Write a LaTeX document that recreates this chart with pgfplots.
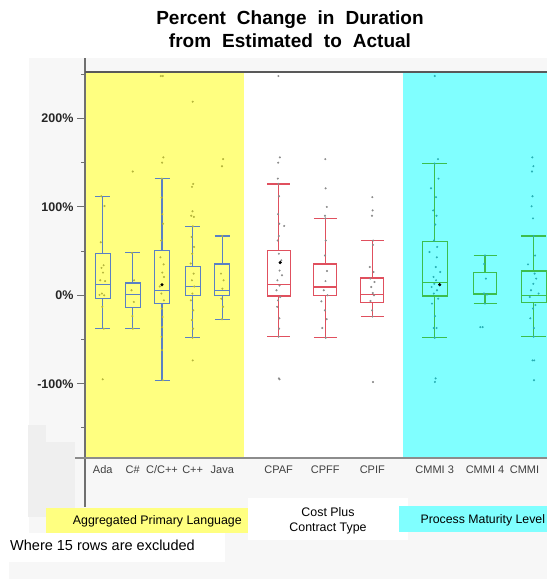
\documentclass[border=0pt]{standalone}
\usepackage{pgfplots}
\pgfplotsset{compat=1.18}
\usepgfplotslibrary{statistics}
\usepackage{fontspec}
\setmainfont{Liberation Sans}

\definecolor{bggray}{HTML}{F7F7F7}
\definecolor{patch}{HTML}{EFEFEF}
\definecolor{panelY}{HTML}{FFFF80}
\definecolor{panelC}{HTML}{80FFFF}
\definecolor{boxB}{HTML}{5A80C4}
\definecolor{boxR}{HTML}{E0505E}
\definecolor{boxG}{HTML}{3CBE4E}
\definecolor{ptY}{HTML}{B4B43C}
\definecolor{ptW}{HTML}{8C8C8C}
\definecolor{ptC}{HTML}{28AEB4}
\definecolor{axgray}{HTML}{707070}

\begin{document}
\begin{tikzpicture}[x=1pt,y=1pt]
\useasboundingbox (0,0) rectangle (547,579);
\fill[white] (0,0) rectangle (547,579);
\fill[bggray] (29,0) rectangle (547,521);
\fill[bggray] (9,0) rectangle (29,17);
\fill[patch] (28,62) rectangle (46,154);
\fill[patch] (28,62) rectangle (75,137);
\fill[panelY] (85,121) rectangle (244,506.5);
\fill[white] (244,121) rectangle (403,506.5);
\fill[panelC] (403,121) rectangle (547,506.5);

\begin{axis}[
  at={(85pt,121pt)}, anchor=south west,
  scale only axis, width=462pt, height=385.5pt,
  xmin=85, xmax=547, ymin=-184, ymax=252,
  axis line style={draw=none},
  boxplot/draw direction=y,
  ytick={-100,0,100,200}, yticklabels={-100\%,0\%,100\%,200\%},
  minor ytick={-150,-50,50,150,250},
  ytick pos=left, tick align=outside,
  major tick length=8pt, minor tick length=4pt,
  ytick style={axgray, line width=1pt},
  yticklabel style={font=\bfseries\fontsize{12.5}{14}\selectfont, text=black!85},
  xtick={102.7,132.7,162,192.7,222.3,278.7,325.3,372.3,434.7,485,524.5},
  xticklabels={Ada,C\#,C/C++,C++,Java,CPAF,CPFF,CPIF,CMMI 3,CMMI 4,CMMI},
  xtick pos=bottom, xtick style={draw=none},
  xticklabel style={font=\fontsize{11}{12}\selectfont, text=black!75, yshift=4pt},
]

% boxes: Aggregated Primary Language
\addplot[boxB, line width=1.2pt, boxplot prepared={draw position=102.7, box extend=15, whisker extend=15,
  lower whisker=-37.7, lower quartile=-3.8, median=12.5, upper quartile=47, upper whisker=112}] coordinates {};
\addplot[boxB, line width=1.2pt, boxplot prepared={draw position=132.7, box extend=15, whisker extend=15,
  lower whisker=-37.7, lower quartile=-14, median=0.8, upper quartile=14, upper whisker=48}] coordinates {};
\addplot[boxB, line width=1.2pt, boxplot prepared={draw position=162, box extend=15, whisker extend=15,
  lower whisker=-96, lower quartile=-9.4, median=5, upper quartile=50.6, upper whisker=132}] coordinates {};
\addplot[boxB, line width=1.2pt, boxplot prepared={draw position=192.7, box extend=15, whisker extend=15,
  lower whisker=-48, lower quartile=-0.4, median=9.8, upper quartile=32.5, upper whisker=78}] coordinates {};
\addplot[boxB, line width=1.2pt, boxplot prepared={draw position=222.3, box extend=15, whisker extend=15,
  lower whisker=-27, lower quartile=0, median=5.7, upper quartile=35.5, upper whisker=67}] coordinates {};

% boxes: Cost Plus Contract Type
\addplot[boxR, line width=1.2pt, boxplot prepared={draw position=278.7, box extend=23, whisker extend=23,
  lower whisker=-46.8, lower quartile=-0.8, median=12, upper quartile=50.6, upper whisker=126}] coordinates {};
\addplot[boxR, line width=1.2pt, boxplot prepared={draw position=325.3, box extend=23, whisker extend=23,
  lower whisker=-48, lower quartile=0, median=9.4, upper quartile=35.5, upper whisker=87}] coordinates {};
\addplot[boxR, line width=1.2pt, boxplot prepared={draw position=372.3, box extend=23, whisker extend=23,
  lower whisker=-24, lower quartile=-8.3, median=0.8, upper quartile=19.6, upper whisker=62}] coordinates {};

% boxes: Process Maturity Level
\addplot[boxG, line width=1.2pt, boxplot prepared={draw position=434.7, box extend=25, whisker extend=25,
  lower whisker=-48, lower quartile=-0.8, median=14.3, upper quartile=60.8, upper whisker=149}] coordinates {};
\addplot[boxG, line width=1.2pt, boxplot prepared={draw position=485, box extend=23, whisker extend=23,
  lower whisker=-9.4, lower quartile=0.8, median=1.5, upper quartile=26, upper whisker=45}] coordinates {};
\addplot[boxG, line width=1.2pt, boxplot prepared={draw position=533.7, box extend=25, whisker extend=25,
  lower whisker=-46.8, lower quartile=-8.3, median=0, upper quartile=27.5, upper whisker=67}] coordinates {};

% points: yellow panel
\addplot[ptY, only marks, mark=*, mark size=0.8pt, mark options={draw=none, fill=ptY}] table {
x y
101.2 112
104.5 101
100.8 60
103.6 34
101.5 31
103.0 25.7
100.2 17
105.1 16
101.9 2
104.2 0
99.5 0.5
102.3 -13
103.8 -37.7
102.7 -95
132.7 140
132.0 48
134.1 17
131.5 5.7
133.8 -7.5
132.4 -23.5
132.9 -37.7
160.8 248
162.8 248
163.4 156
162.1 150
161.8 132
161.6 110.6
162.4 91.7
163.0 81
161.2 62
160.4 43
163.6 35
162.3 25.7
164.0 20.8
159.8 10
161.4 2
163.9 -5.7
161.7 -15
162.6 -24.5
162.2 -36
161.5 -47
162.0 -62
162.8 -96
192.7 219
193.2 126
192.0 122.6
192.5 95
191.2 90
193.9 88.7
192.9 78
191.6 66
194.1 54.7
192.2 47
190.7 36
193.6 24.5
191.9 17
194.3 10
192.4 2
190.9 -5.7
193.3 -17
192.0 -28
193.1 -37.7
192.6 -48
192.7 -73.6
223.1 154
222.0 146
222.3 67
221.0 24.5
223.6 17
222.4 7.5
221.3 -3.8
223.0 -13
222.0 -27
};

% points: white panel
\addplot[ptW, only marks, mark=*, mark size=0.8pt, mark options={draw=none, fill=ptW}] table {
x y
278.4 248
279.8 156
278.2 150
277.8 132
278.4 126
279.0 112
278.1 91.7
279.3 81
284.2 78.5
278.8 67
277.6 62
278.9 47
281.3 39.6
279.6 28
282.0 22.6
277.4 17
279.5 11
276.5 5.7
280.2 -1.9
278.0 -5.7
277.2 -13
279.4 -26
279.1 -37.7
278.7 -46.8
278.9 -94
279.6 -95
325.3 154
325.6 121
326.8 100
325.0 90
325.4 87
325.8 62
325.0 45
327.0 27.5
325.5 16
323.8 5.7
327.5 0
321.4 -6.8
324.9 -17
326.7 -27
322.3 -37
325.7 -48
372.3 111
372.6 96
372.0 90
373.1 62
373.0 57
369.8 32
373.5 26.4
370.3 18.9
374.5 15
371.2 9.4
372.8 2.6
374.0 0
370.5 -6.4
372.1 -17
372.6 -24
373.0 -98
};

% points: cyan panel
\addplot[ptC, only marks, mark=*, mark size=0.8pt, mark options={draw=none, fill=ptC}] table {
x y
434.7 248
438.0 154
434.7 149
438.5 132
431.0 121
436.0 111
433.2 96
436.5 90
435.3 80
434.0 62
437.2 54.7
429.5 49
436.8 43
435.8 32
440.2 26.4
433.5 20.8
436.1 17
434.3 13
431.6 9.4
437.0 5.7
433.8 2
438.2 -3.8
432.0 -9.4
435.0 -23.5
436.6 -37
433.8 -37
434.7 -48
435.6 -94
434.9 -98
485.0 45
484.2 35.5
485.9 18.9
484.0 2
487.0 0.8
480.3 -36
482.6 -36
485.0 -9.4
532.3 156
533.4 146
532.0 140
532.5 112
531.6 100.7
533.0 87
533.7 67
535.1 45
528.0 35
534.6 24.5
536.2 18.9
533.3 13
531.0 5.7
538.6 2
529.8 -1.9
535.4 -11
533.0 -15
530.3 -26
533.9 -37
533.7 -46.8
532.5 -73.6
534.2 -73.6
534.0 -96
};

% highlighted (mean) points
\addplot[black, only marks, mark=*, mark size=1.4pt, mark options={draw=none, fill=black}] coordinates {
(162,12) (280.2,37) (439.7,12)
};
\end{axis}

% axis lines
\draw[axgray, line width=2pt] (85,72) -- (85,521);
\draw[black!65, line width=2pt] (85,506.5) -- (547,506.5);
\draw[black!45, line width=1.5pt] (75,121) -- (547,121);

% bottom group labels
\fill[panelY] (46,46.3) rectangle (248,70.7);
\fill[white] (248,39) rectangle (407.5,80.7);
\fill[panelC] (399,47.3) rectangle (547,73);
\fill[white] (0,17.3) rectangle (225,46.3);
\node[anchor=base west, inner sep=0, font=\fontsize{12.4}{14}\selectfont] at (72.7,54.7) {Aggregated Primary Language};
\node[anchor=base, inner sep=0, font=\fontsize{12.4}{14}\selectfont] at (328,62) {Cost Plus};
\node[anchor=base, inner sep=0, font=\fontsize{12.4}{14}\selectfont] at (328,47) {Contract Type};
\node[anchor=base west, inner sep=0, font=\fontsize{12.3}{14}\selectfont] at (420.4,55.7) {Process Maturity Level};
\node[anchor=base west, inner sep=0, font=\fontsize{14.5}{16}\selectfont] at (10,28) {Where 15 rows are excluded};

% title
\node[anchor=base, inner sep=0, font=\bfseries\fontsize{19}{22}\selectfont] at (290,554) {Percent\hspace{11pt}Change\hspace{11pt}in\hspace{11pt}Duration};
\node[anchor=base, inner sep=0, font=\bfseries\fontsize{19}{22}\selectfont] at (290,531.3) {from\hspace{11pt}Estimated\hspace{11pt}to\hspace{11pt}Actual};
\end{tikzpicture}
\end{document}
